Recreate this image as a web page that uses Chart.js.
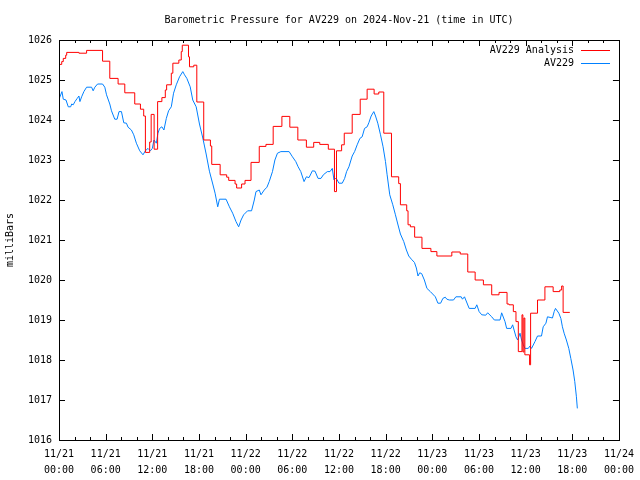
<!DOCTYPE html>
<html>
<head>
<meta charset="utf-8">
<script src="https://cdn.jsdelivr.net/npm/chart.js@4"></script>
<style>
  html, body { margin: 0; padding: 0; background: #fff; }
  #wrap { width: 640px; height: 480px; }
</style>
</head>
<body>
<div id="wrap"><canvas id="chart" width="640" height="480"></canvas></div>
<script>
// hours since 2024-11-21 00:00 UTC
const xTickDays = ['11/21', '11/21', '11/21', '11/21', '11/22', '11/22', '11/22', '11/22', '11/23', '11/23', '11/23', '11/23', '11/24'];
const xTickTimes = ['00:00', '06:00', '12:00', '18:00', '00:00', '06:00', '12:00', '18:00', '00:00', '06:00', '12:00', '18:00', '00:00'];

// AV229 Analysis (step series: value holds until the next hour listed)
const analysisHours = [0, 0.35, 0.55, 0.86, 0.99, 2.56, 3.55, 5.60, 6.53, 7.60, 8.46, 9.74, 10.47, 10.89,
  11.11, 11.66, 11.85, 12.23, 12.68, 13.23, 13.67, 13.84, 14.44, 14.64, 15.41, 15.72, 15.85, 16.65, 16.78,
  17.33, 17.72, 18.61, 19.47, 19.64, 20.72, 21.56, 21.82, 22.64, 22.84, 23.48, 23.92, 24.69, 25.75, 26.61,
  27.54, 28.66, 29.68, 30.71, 31.81, 32.75, 33.53, 34.63, 35.42, 35.68, 36.34, 36.68, 37.70, 38.73, 39.62,
  40.52, 41.12, 41.76, 42.75, 43.68, 43.90, 44.71, 44.88, 45.18, 45.73, 46.67, 47.82, 48.59, 50.51, 51.59,
  52.56, 53.51, 54.57, 55.64, 56.58, 57.61, 57.87, 58.42, 58.76, 59.06, 59.53, 59.65, 59.78, 59.90, 60.51,
  60.64, 61.53, 62.48, 63.54, 64.40, 64.63, 64.82, 65.68];
const analysisPressure = [1025.39, 1025.46, 1025.54, 1025.62, 1025.69, 1025.67, 1025.74, 1025.47, 1025.04, 1024.90, 1024.68, 1024.40, 1024.27, 1024.10,
  1023.19, 1023.45, 1024.14, 1023.27, 1024.46, 1024.56, 1024.75, 1024.88, 1025.17, 1025.42, 1025.50, 1025.71, 1025.87, 1025.58, 1025.33,
  1025.37, 1024.45, 1023.50, 1023.35, 1022.89, 1022.63, 1022.57, 1022.49, 1022.40, 1022.30, 1022.40, 1022.49, 1022.94, 1023.34, 1023.39,
  1023.84, 1024.09, 1023.82, 1023.50, 1023.32, 1023.44, 1023.39, 1023.27, 1022.21, 1023.23, 1023.38, 1023.67, 1024.14, 1024.52, 1024.77,
  1024.65, 1024.70, 1023.67, 1022.58, 1022.41, 1021.88, 1021.73, 1021.38, 1021.33, 1021.07, 1020.79, 1020.71, 1020.60, 1020.70, 1020.65,
  1020.20, 1020.00, 1019.88, 1019.63, 1019.69, 1019.40, 1019.38, 1019.21, 1018.96, 1018.21, 1019.13, 1018.20, 1019.05, 1018.13, 1017.88,
  1019.17, 1019.50, 1019.83, 1019.71, 1019.75, 1019.85, 1019.19, 1019.19];

// AV229 observations
const stationHours = [0, 0.38, 0.55, 0.90, 1.19, 1.50, 1.63, 1.83, 2.05, 2.34, 2.56, 2.69, 2.91, 3.20, 3.55, 4.19, 4.39, 4.61, 4.96,
  5.60, 5.89, 6.11, 6.53, 6.75, 7.17, 7.47, 7.72, 8.03, 8.33, 8.67, 8.88, 9.31, 9.61, 9.95, 10.38, 10.80, 11.11, 11.44, 11.75,
  12.00, 12.21, 12.52, 12.72, 12.94, 13.23, 13.49, 13.80, 14.09, 14.44, 14.73, 15.08, 15.50, 15.92, 16.14, 16.44, 16.87, 17.20,
  17.64, 18.06, 18.49, 18.92, 19.34, 19.77, 20.07, 20.41, 20.63, 21.48, 21.91, 22.33, 22.76, 23.10, 23.41, 23.74, 24.25, 24.76,
  25.11, 25.33, 25.75, 25.97, 26.39, 26.74, 27.03, 27.45, 27.76, 28.09, 28.53, 29.59, 30.02, 30.45, 30.75, 31.09, 31.51, 31.81,
  32.15, 32.58, 32.92, 33.31, 33.69, 33.99, 34.50, 34.85, 35.14, 35.36, 35.58, 35.78, 35.99, 36.42, 36.73, 36.98, 37.28, 37.70,
  38.01, 38.34, 38.69, 38.98, 39.29, 39.62, 39.84, 40.14, 40.48, 40.70, 40.99, 41.34, 41.67, 41.98, 42.19, 42.53, 42.92, 43.26,
  43.56, 43.90, 44.33, 44.67, 44.97, 45.31, 45.70, 45.95, 46.16, 46.38, 46.63, 46.98, 47.31, 47.75, 48.39, 48.72, 49.07, 49.36,
  49.67, 49.87, 50.18, 50.73, 51.03, 51.72, 51.88, 52.14, 52.74, 53.51, 53.72, 54.02, 54.36, 54.87, 55.12, 55.64, 55.98, 56.71,
  56.92, 57.35, 57.56, 58.12, 58.33, 58.76, 58.97, 59.28, 59.48, 59.70, 59.92, 60.34, 60.56, 60.76, 61.20, 61.53, 62.04, 62.26,
  62.61, 62.81, 63.25, 63.45, 63.67, 63.84, 64.27, 64.53, 64.73, 64.95, 65.24, 65.55, 65.81, 66.10, 66.32, 66.53, 66.65];
const stationPressure = [1024.52, 1024.71, 1024.52, 1024.50, 1024.33, 1024.33, 1024.40, 1024.38, 1024.46, 1024.54, 1024.60, 1024.46, 1024.58, 1024.71, 1024.82, 1024.82, 1024.73, 1024.82, 1024.90,
  1024.90, 1024.82, 1024.63, 1024.40, 1024.23, 1024.02, 1024.02, 1024.21, 1024.21, 1023.93, 1023.92, 1023.82, 1023.75, 1023.63, 1023.42, 1023.23, 1023.13, 1023.23, 1023.29, 1023.23,
  1023.29, 1023.50, 1023.42, 1023.67, 1023.79, 1023.83, 1023.75, 1024.04, 1024.23, 1024.33, 1024.67, 1024.88, 1025.08, 1025.21, 1025.13, 1025.04, 1024.83, 1024.50,
  1024.33, 1023.90, 1023.55, 1023.15, 1022.72, 1022.40, 1022.17, 1021.83, 1022.02, 1022.02, 1021.83, 1021.67, 1021.46, 1021.33, 1021.50, 1021.63, 1021.73, 1021.73,
  1022.00, 1022.21, 1022.25, 1022.13, 1022.25, 1022.32, 1022.46, 1022.71, 1023.00, 1023.17, 1023.21, 1023.21, 1023.08, 1022.96, 1022.83, 1022.71, 1022.46, 1022.58,
  1022.56, 1022.73, 1022.72, 1022.54, 1022.54, 1022.63, 1022.71, 1022.71, 1022.79, 1022.50, 1022.55, 1022.50, 1022.42, 1022.42, 1022.54, 1022.71, 1022.83, 1023.10,
  1023.21, 1023.38, 1023.54, 1023.58, 1023.79, 1023.83, 1023.93, 1024.10, 1024.21, 1024.10, 1023.92, 1023.63, 1023.33, 1022.96, 1022.63, 1022.13, 1021.88, 1021.63,
  1021.40, 1021.15, 1020.96, 1020.75, 1020.60, 1020.52, 1020.44, 1020.30, 1020.10, 1020.18, 1020.16, 1020.00, 1019.79, 1019.71, 1019.58, 1019.42, 1019.42, 1019.54,
  1019.57, 1019.52, 1019.50, 1019.50, 1019.58, 1019.58, 1019.52, 1019.58, 1019.29, 1019.29, 1019.38, 1019.21, 1019.13, 1019.12, 1019.18, 1019.08, 1019.00, 1019.00,
  1019.18, 1018.96, 1018.79, 1018.79, 1018.88, 1018.58, 1018.50, 1018.67, 1018.50, 1018.38, 1018.29, 1018.29, 1018.35, 1018.29, 1018.46, 1018.60, 1018.60, 1018.83,
  1018.92, 1019.08, 1019.06, 1019.05, 1019.21, 1019.29, 1019.17, 1019.04, 1018.83, 1018.67, 1018.50, 1018.29, 1018.04, 1017.75, 1017.46, 1017.08, 1016.79];

const FONT = 'DejaVu Sans Mono';

function toPoints(xs, ys) {
  return xs.map((x, i) => ({ x: x, y: ys[i] }));
}

// frame, inward ticks, title and legend drawn the gnuplot way
const gnuplotFrame = {
  id: 'gnuplotFrame',
  afterDraw(chart) {
    const ctx = chart.ctx, a = chart.chartArea;
    const xs = chart.scales.x, ys = chart.scales.y;
    ctx.save();
    ctx.strokeStyle = '#000';
    ctx.lineWidth = 1;
    ctx.beginPath();
    for (let h = 0; h <= 72; h += 2) {
      const px = Math.round(xs.getPixelForValue(h)) + 0.5;
      const len = h % 6 === 0 ? 6 : 3;
      ctx.moveTo(px, a.bottom); ctx.lineTo(px, a.bottom - len);
      ctx.moveTo(px, a.top); ctx.lineTo(px, a.top + len);
    }
    for (let v = 1016; v <= 1026; v++) {
      const py = Math.round(ys.getPixelForValue(v)) + 0.5;
      ctx.moveTo(a.left, py); ctx.lineTo(a.left + 6, py);
      ctx.moveTo(a.right, py); ctx.lineTo(a.right - 6, py);
    }
    ctx.stroke();
    ctx.strokeRect(Math.round(a.left) + 0.5, Math.round(a.top) + 0.5,
      Math.round(a.right - a.left), Math.round(a.bottom - a.top));

    ctx.fillStyle = '#000';
    ctx.font = '10px "' + FONT + '"';
    ctx.textBaseline = 'middle';
    ctx.textAlign = 'center';
    ctx.fillText('Barometric Pressure for AV229 on 2024-Nov-21 (time in UTC)', (a.left + a.right) / 2, 20);

    const items = [['AV229 Analysis', '#ff0000', 50], ['AV229', '#0080ff', 63]];
    ctx.textAlign = 'right';
    for (const [label, color, y] of items) {
      ctx.fillStyle = '#000';
      ctx.fillText(label, 574, y);
      ctx.strokeStyle = color;
      ctx.beginPath();
      ctx.moveTo(581, y + 0.5); ctx.lineTo(610, y + 0.5);
      ctx.stroke();
    }
    ctx.restore();
  }
};

const chart = new Chart(document.getElementById('chart'), {
  type: 'line',
  data: {
    datasets: [
      {
        label: 'AV229 Analysis',
        data: toPoints(analysisHours, analysisPressure),
        borderColor: '#ff0000',
        borderWidth: 1,
        stepped: true,
        pointRadius: 0
      },
      {
        label: 'AV229',
        data: toPoints(stationHours, stationPressure),
        borderColor: '#0080ff',
        borderWidth: 1,
        pointRadius: 0
      }
    ]
  },
  options: {
    responsive: false,
    animation: false,
    layout: { padding: { top: 40, right: 19, left: 0, bottom: 0 } },
    plugins: { legend: { display: false }, title: { display: false }, tooltip: { enabled: false } },
    scales: {
      x: {
        type: 'linear',
        min: 0,
        max: 72,
        grid: { display: false, drawTicks: false },
        border: { display: false },
        afterFit(scale) { scale.height = 40; },
        afterBuildTicks(scale) {
          scale.ticks = xTickDays.map((d, i) => ({ value: i * 6 }));
        },
        ticks: {
          autoSkip: false,
          maxRotation: 0,
          padding: 6,
          color: '#000',
          font: { family: FONT, size: 10, lineHeight: 1.6 },
          callback: (v, i) => [xTickDays[i], xTickTimes[i]]
        }
      },
      y: {
        min: 1016,
        max: 1026,
        grid: { display: false, drawTicks: false },
        border: { display: false },
        afterFit(scale) { scale.width = 59; },
        ticks: {
          stepSize: 1,
          padding: 7,
          color: '#000',
          font: { family: FONT, size: 10 },
          callback: v => String(v)
        },
        title: {
          display: true,
          text: 'milliBars',
          color: '#000',
          padding: { top: 4, bottom: 0 },
          font: { family: FONT, size: 10 }
        }
      }
    }
  },
  plugins: [gnuplotFrame]
});
</script>
</body>
</html>
